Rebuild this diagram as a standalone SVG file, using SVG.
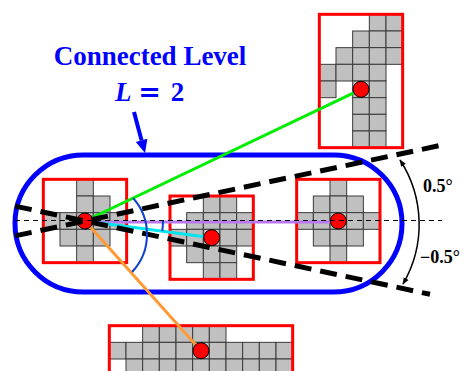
<svg xmlns="http://www.w3.org/2000/svg" width="468" height="371" viewBox="0 0 468 371">
<style>
.c{fill:#c0c0c0;stroke:#3a3a3a;stroke-width:1}
.box{fill:none;stroke:#ff0000;stroke-width:3}
.dot{fill:#ff0000;stroke:#000;stroke-width:1}
.wedge{fill:none;stroke:#000;stroke-width:5;stroke-dasharray:17 9}
.axis{fill:none;stroke:#000;stroke-width:1.2;stroke-dasharray:5 4}
.lbl{font-family:"Liberation Serif","Times New Roman",serif;font-weight:bold}
</style>
<defs>
<marker id="ah" viewBox="0 0 10 10" refX="9" refY="5" markerWidth="7" markerHeight="7" markerUnits="userSpaceOnUse" orient="auto-start-reverse">
<path d="M0,1 L10,5 L0,9 z" fill="#000"/>
</marker>
</defs>
<rect width="468" height="371" fill="#fff"/>
<g id="level">
<rect x="15" y="155" width="387" height="137" rx="68.5" ry="68.5" fill="none" stroke="#0000ff" stroke-width="5"/>
</g>
<g id="box-left" transform="translate(43.33,179.33)">
<rect class="c" x="33.33" y="0" width="16.67" height="16.67"/>
<rect class="c" x="33.33" y="16.67" width="16.67" height="16.67"/>
<rect class="c" x="50" y="16.67" width="16.67" height="16.67"/>
<rect class="c" x="0" y="33.33" width="16.67" height="16.67"/>
<rect class="c" x="16.67" y="33.33" width="16.67" height="16.67"/>
<rect class="c" x="33.33" y="33.33" width="16.67" height="16.67"/>
<rect class="c" x="50" y="33.33" width="16.67" height="16.67"/>
<rect class="c" x="66.67" y="33.33" width="16.67" height="16.67"/>
<rect class="c" x="16.67" y="50" width="16.67" height="16.67"/>
<rect class="c" x="33.33" y="50" width="16.67" height="16.67"/>
<rect class="c" x="50" y="50" width="16.67" height="16.67"/>
<rect class="c" x="33.33" y="66.67" width="16.67" height="16.67"/>
<rect class="box" x="0" y="0" width="83.33" height="83.33"/>
</g>
<g id="box-middle" transform="translate(170,196)">
<rect class="c" x="33.33" y="0" width="16.67" height="16.67"/>
<rect class="c" x="50" y="0" width="16.67" height="16.67"/>
<rect class="c" x="16.67" y="16.67" width="16.67" height="16.67"/>
<rect class="c" x="33.33" y="16.67" width="16.67" height="16.67"/>
<rect class="c" x="50" y="16.67" width="16.67" height="16.67"/>
<rect class="c" x="66.67" y="16.67" width="16.67" height="16.67"/>
<rect class="c" x="0" y="33.33" width="16.67" height="16.67"/>
<rect class="c" x="16.67" y="33.33" width="16.67" height="16.67"/>
<rect class="c" x="33.33" y="33.33" width="16.67" height="16.67"/>
<rect class="c" x="50" y="33.33" width="16.67" height="16.67"/>
<rect class="c" x="66.67" y="33.33" width="16.67" height="16.67"/>
<rect class="c" x="16.67" y="50" width="16.67" height="16.67"/>
<rect class="c" x="33.33" y="50" width="16.67" height="16.67"/>
<rect class="c" x="50" y="50" width="16.67" height="16.67"/>
<rect class="c" x="33.33" y="66.67" width="16.67" height="16.67"/>
<rect class="c" x="50" y="66.67" width="16.67" height="16.67"/>
<rect class="box" x="0" y="0" width="83.33" height="83.33"/>
</g>
<g id="box-right" transform="translate(296.67,179.33)">
<rect class="c" x="33.33" y="0" width="16.67" height="16.67"/>
<rect class="c" x="16.67" y="16.67" width="16.67" height="16.67"/>
<rect class="c" x="33.33" y="16.67" width="16.67" height="16.67"/>
<rect class="c" x="50" y="16.67" width="16.67" height="16.67"/>
<rect class="c" x="0" y="33.33" width="16.67" height="16.67"/>
<rect class="c" x="16.67" y="33.33" width="16.67" height="16.67"/>
<rect class="c" x="33.33" y="33.33" width="16.67" height="16.67"/>
<rect class="c" x="50" y="33.33" width="16.67" height="16.67"/>
<rect class="c" x="66.67" y="33.33" width="16.67" height="16.67"/>
<rect class="c" x="16.67" y="50" width="16.67" height="16.67"/>
<rect class="c" x="33.33" y="50" width="16.67" height="16.67"/>
<rect class="c" x="50" y="50" width="16.67" height="16.67"/>
<rect class="c" x="33.33" y="66.67" width="16.67" height="16.67"/>
<rect class="box" x="0" y="0" width="83.33" height="83.33"/>
</g>
<g id="box-top" transform="translate(319.33,14.33)">
<rect class="c" x="50" y="0" width="16.67" height="16.67"/>
<rect class="c" x="66.67" y="0" width="16.67" height="16.67"/>
<rect class="c" x="33.33" y="16.67" width="16.67" height="16.67"/>
<rect class="c" x="50" y="16.67" width="16.67" height="16.67"/>
<rect class="c" x="66.67" y="16.67" width="16.67" height="16.67"/>
<rect class="c" x="16.67" y="33.33" width="16.67" height="16.67"/>
<rect class="c" x="33.33" y="33.33" width="16.67" height="16.67"/>
<rect class="c" x="50" y="33.33" width="16.67" height="16.67"/>
<rect class="c" x="66.67" y="33.33" width="16.67" height="16.67"/>
<rect class="c" x="0" y="50" width="16.67" height="16.67"/>
<rect class="c" x="16.67" y="50" width="16.67" height="16.67"/>
<rect class="c" x="33.33" y="50" width="16.67" height="16.67"/>
<rect class="c" x="50" y="50" width="16.67" height="16.67"/>
<rect class="c" x="0" y="66.67" width="16.67" height="16.67"/>
<rect class="c" x="33.33" y="66.67" width="16.67" height="16.67"/>
<rect class="c" x="50" y="66.67" width="16.67" height="16.67"/>
<rect class="c" x="33.33" y="83.33" width="16.67" height="16.67"/>
<rect class="c" x="50" y="83.33" width="16.67" height="16.67"/>
<rect class="c" x="33.33" y="100" width="16.67" height="16.67"/>
<rect class="c" x="50" y="100" width="16.67" height="16.67"/>
<rect class="c" x="33.33" y="116.67" width="16.67" height="16.67"/>
<rect class="c" x="50" y="116.67" width="16.67" height="16.67"/>
<rect class="box" x="0" y="0" width="83.33" height="133.33"/>
</g>
<g id="box-bottom" transform="translate(109.33,325.67)">
<rect class="c" x="33.33" y="0" width="16.67" height="16.67"/>
<rect class="c" x="50" y="0" width="16.67" height="16.67"/>
<rect class="c" x="66.67" y="0" width="16.67" height="16.67"/>
<rect class="c" x="83.33" y="0" width="16.67" height="16.67"/>
<rect class="c" x="100" y="0" width="16.67" height="16.67"/>
<rect class="c" x="0" y="16.67" width="16.67" height="16.67"/>
<rect class="c" x="16.67" y="16.67" width="16.67" height="16.67"/>
<rect class="c" x="33.33" y="16.67" width="16.67" height="16.67"/>
<rect class="c" x="50" y="16.67" width="16.67" height="16.67"/>
<rect class="c" x="66.67" y="16.67" width="16.67" height="16.67"/>
<rect class="c" x="83.33" y="16.67" width="16.67" height="16.67"/>
<rect class="c" x="100" y="16.67" width="16.67" height="16.67"/>
<rect class="c" x="116.67" y="16.67" width="16.67" height="16.67"/>
<rect class="c" x="133.33" y="16.67" width="16.67" height="16.67"/>
<rect class="c" x="150" y="16.67" width="16.67" height="16.67"/>
<rect class="c" x="166.67" y="16.67" width="16.67" height="16.67"/>
<rect class="c" x="16.67" y="33.33" width="16.67" height="16.67"/>
<rect class="c" x="33.33" y="33.33" width="16.67" height="16.67"/>
<rect class="c" x="50" y="33.33" width="16.67" height="16.67"/>
<rect class="c" x="66.67" y="33.33" width="16.67" height="16.67"/>
<rect class="c" x="83.33" y="33.33" width="16.67" height="16.67"/>
<rect class="c" x="100" y="33.33" width="16.67" height="16.67"/>
<rect class="c" x="116.67" y="33.33" width="16.67" height="16.67"/>
<rect class="c" x="133.33" y="33.33" width="16.67" height="16.67"/>
<rect class="c" x="150" y="33.33" width="16.67" height="16.67"/>
<rect class="c" x="166.67" y="33.33" width="16.67" height="16.67"/>
<rect class="box" x="0" y="0" width="183.33" height="70"/>
</g>
<g id="connectors" fill="none">
<line x1="85" y1="221" x2="361" y2="89.3" stroke="#00ee00" stroke-width="3"/>
<line x1="85" y1="221" x2="201" y2="350.7" stroke="#ff9933" stroke-width="3"/>
<line x1="85" y1="222" x2="338.3" y2="222" stroke="#b878f0" stroke-width="3"/>
<line x1="85" y1="221" x2="211.7" y2="237.7" stroke="#00e5ee" stroke-width="3"/>
</g>
<g id="dots">
<circle class="dot" cx="85" cy="221" r="8"/>
<circle class="dot" cx="211.7" cy="237.7" r="8"/>
<circle class="dot" cx="338.3" cy="221" r="8"/>
<circle class="dot" cx="361" cy="89.3" r="8"/>
<circle class="dot" cx="201" cy="350.7" r="8"/>
</g>
<g id="guides">
<line class="axis" x1="15" y1="220.5" x2="442" y2="220.5"/>
<line class="wedge" x1="15" y1="235.9" x2="440" y2="145.5"/>
<line class="wedge" x1="15" y1="206.1" x2="430" y2="294.3"/>
<path d="M133,198 A54.5,54.5 0 0,1 132,272" fill="none" stroke="#1040d0" stroke-width="2"/>
<path d="M163,221 A78,78 0 0,1 162.3,231" fill="none" stroke="#1040d0" stroke-width="2"/>
<path d="M400,160 A118,118 0 0,1 403,284" fill="none" stroke="#000" stroke-width="1.5" marker-start="url(#ah)" marker-end="url(#ah)"/>
</g>
<g id="title" fill="#0000ff">
<text class="lbl" x="150" y="65" font-size="27" text-anchor="middle">Connected Level</text>
<text class="lbl" x="115" y="101" font-size="27"><tspan font-style="italic">L</tspan> <tspan font-family="'DejaVu Sans',sans-serif">=</tspan><tspan dx="3"> 2</tspan></text>
<line x1="134" y1="112" x2="141.6" y2="140.4" stroke="#0000ff" stroke-width="4"/>
<polygon points="145,153 147.4,138.85 135.8,141.95" fill="#0000ff"/>
</g>
<g id="angles" fill="#000">
<text class="lbl" x="423" y="192" font-size="18">0.5°</text>
<text class="lbl" x="420" y="263" font-size="18">−0.5°</text>
</g>
</svg>
